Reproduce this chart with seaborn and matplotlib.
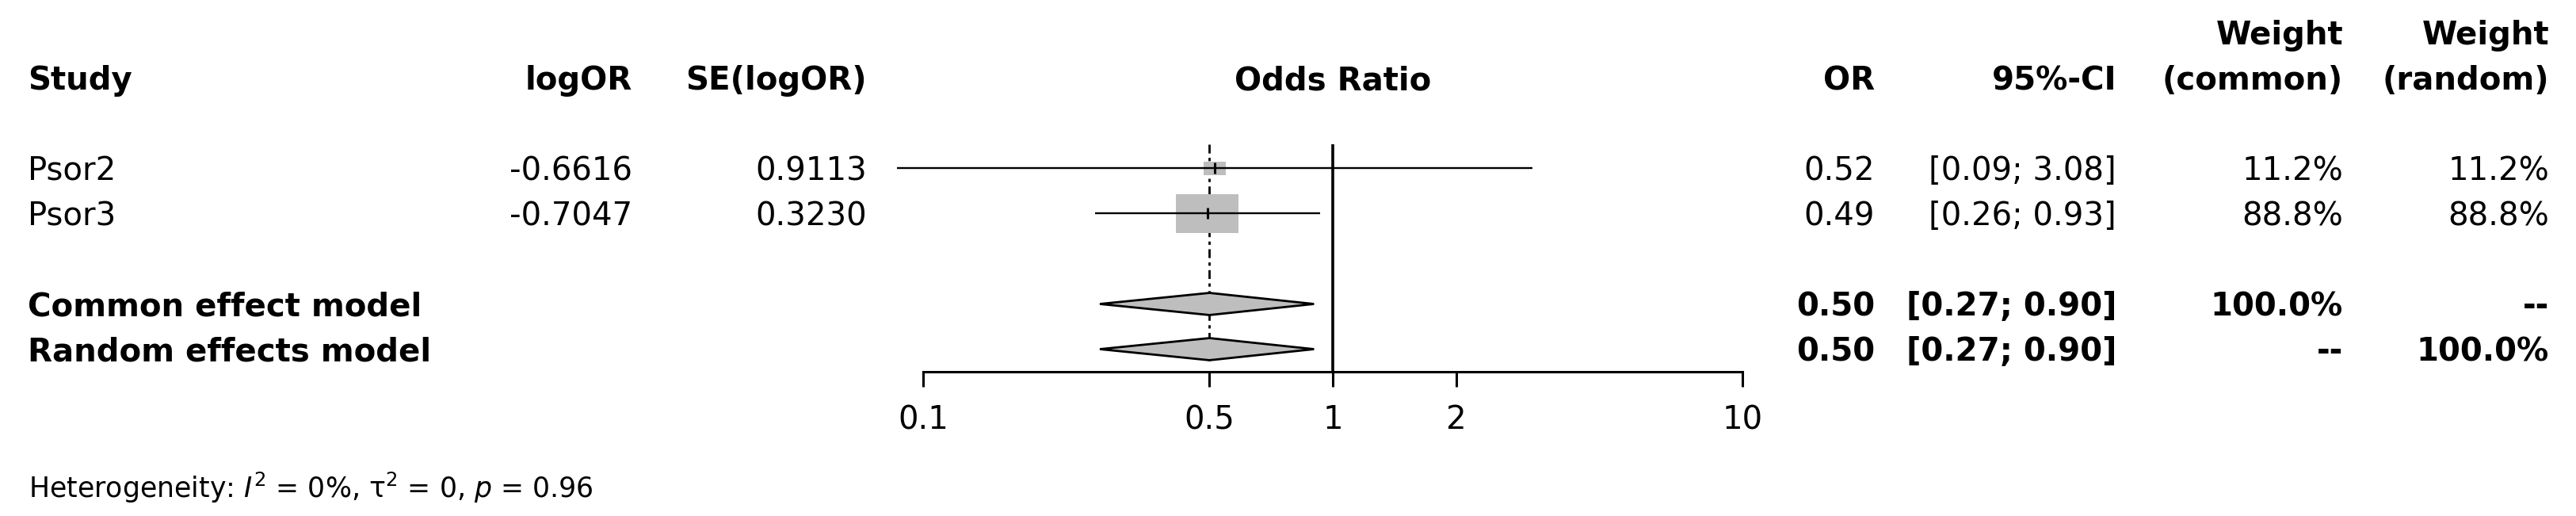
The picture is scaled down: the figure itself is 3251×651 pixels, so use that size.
import matplotlib
matplotlib.use("Agg")
import matplotlib.pyplot as plt
import matplotlib.transforms as mtransforms
from matplotlib.patches import Rectangle, Polygon
import seaborn as sns
import numpy as np
import pandas as pd

# Study level values
studies = ["Psor2", "Psor3"]
log_or = [-0.6616, -0.7047]
se_log_or = [0.9113, 0.3230]
odds_ratio = [0.52, 0.49]
ci_lower = [0.09, 0.26]
ci_upper = [3.08, 0.93]
weight_common = [11.2, 88.8]
weight_random = [11.2, 88.8]

# Pooled estimates
models = ["Common effect model", "Random effects model"]
pooled_or = [0.50, 0.50]
pooled_lower = [0.27, 0.27]
pooled_upper = [0.90, 0.90]
pooled_weight_common = ["100.0%", "--"]
pooled_weight_random = ["--", "100.0%"]

x_ticks = [0.1, 0.5, 1, 2, 10]
x_tick_labels = ["0.1", "0.5", "1", "2", "10"]
heterogeneity = r"Heterogeneity: $I^2$ = 0%, $\mathrm{\tau}^2$ = 0, $p$ = 0.96"

study_rows = [1, 2]
model_rows = [4, 5]

sns.set_theme(style="white")
plt.rcParams["font.family"] = ["DejaVu Sans"]
plt.rcParams["mathtext.fontset"] = "dejavusans"
plt.rcParams["text.color"] = "black"
plt.rcParams["xtick.color"] = "black"
plt.rcParams["xtick.labelcolor"] = "black"

W, H = 3251, 651
fig = plt.figure(figsize=(W / 100, H / 100), dpi=100)
ax = fig.add_axes([1165 / W, 0, (2199 - 1165) / W, 1])
ax.set_xscale("log")
ax.set_xlim(0.1, 10)
ax.set_ylim(8.693, -2.728)

grey = "#BEBEBE"
fs = 29

# confidence intervals and weighted squares
est = np.exp(log_or)
lo = np.exp(np.array(log_or) - 1.96 * np.array(se_log_or))
hi = np.exp(np.array(log_or) + 1.96 * np.array(se_log_or))
for r, e, w in zip(study_rows, est, weight_common):
    hw = 0.0811 * np.sqrt(w / 100)
    hh = 0.447 * np.sqrt(w / 100)
    ax.add_patch(Rectangle((e / 10 ** hw, r - hh), e * 10 ** hw - e / 10 ** hw, 2 * hh,
                           facecolor=grey, edgecolor="none", zorder=2))
ax.hlines(study_rows, lo, hi, color="black", lw=1.7, zorder=3, clip_on=False)

df = pd.DataFrame({"study": studies, "or": est, "row": study_rows})
sns.scatterplot(data=df, x="or", y="row", marker="|", s=100, color="black",
                linewidth=2.2, ax=ax, zorder=4, legend=False)

# diamonds for the pooled models
for r, e, l, h in zip(model_rows, pooled_or, pooled_lower, pooled_upper):
    ax.add_patch(Polygon([(l, r), (e, r - 0.245), (h, r), (e, r + 0.245)], closed=True,
                         facecolor=grey, edgecolor="black", lw=2, zorder=3))

# reference lines
ax.vlines(1, 0.465, 5.5, color="black", lw=2.6, zorder=1)
ax.vlines(pooled_or[0], 0.465, 5.25, color="black", lw=2, linestyles=(0, (4, 2, 1.5, 2)), zorder=1)

# x axis
for side in ["top", "left", "right"]:
    ax.spines[side].set_visible(False)
ax.spines["bottom"].set_position(("data", 5.5))
ax.spines["bottom"].set_bounds(0.1, 10)
ax.spines["bottom"].set_linewidth(2.2)
ax.spines["bottom"].set_color("black")
ax.set_xticks(x_ticks)
ax.set_xticklabels(x_tick_labels)
ax.tick_params(axis="x", which="major", bottom=True, direction="out", length=13.7, width=2.2,
               color="black", labelcolor="black", labelsize=fs, pad=16)
ax.tick_params(axis="x", which="minor", bottom=False)
ax.set_yticks([])
ax.set_xlabel("")
ax.set_ylabel("")

tr = mtransforms.blended_transform_factory(fig.transFigure, ax.transData)


def put(x, row, s, ha="right", bold=False, size=fs, trans=tr):
    off = 0.729 * size * 100 / 72 / 2 / 57
    ax.text(x, row + off, s, ha=ha, va="baseline", fontsize=size, color="black",
            fontweight="bold" if bold else "normal", transform=trans, clip_on=False)


# header
put(35 / W, -1, "Study", ha="left", bold=True)
put(798 / W, -1, "logOR", bold=True)
put(1094 / W, -1, "SE(logOR)", bold=True)
put(1, -1, "Odds Ratio", ha="center", bold=True, trans=ax.transData)
put(2366 / W, -1, "OR", bold=True)
put(2671 / W, -1, "95%-CI", bold=True)
put(2957 / W, -2, "Weight", bold=True)
put(2957 / W, -1, "(common)", bold=True)
put(3217 / W, -2, "Weight", bold=True)
put(3217 / W, -1, "(random)", bold=True)

# study rows
for i, r in enumerate(study_rows):
    put(35 / W, r, studies[i], ha="left")
    put(798 / W, r, f"{log_or[i]:.4f}")
    put(1094 / W, r, f"{se_log_or[i]:.4f}")
    put(2366 / W, r, f"{odds_ratio[i]:.2f}")
    put(2671 / W, r, f"[{ci_lower[i]:.2f}; {ci_upper[i]:.2f}]")
    put(2957 / W, r, f"{weight_common[i]:.1f}%")
    put(3217 / W, r, f"{weight_random[i]:.1f}%")

# pooled rows
for i, r in enumerate(model_rows):
    put(35 / W, r, models[i], ha="left", bold=True)
    put(2366 / W, r, f"{pooled_or[i]:.2f}", bold=True)
    put(2671 / W, r, f"[{pooled_lower[i]:.2f}; {pooled_upper[i]:.2f}]", bold=True)
    put(2957 / W, r, pooled_weight_common[i], bold=True)
    put(3217 / W, r, pooled_weight_random[i], bold=True)

put(36 / W, 8.06, heterogeneity, ha="left", size=25)

fig.savefig("out.png", dpi=100, facecolor="white")
